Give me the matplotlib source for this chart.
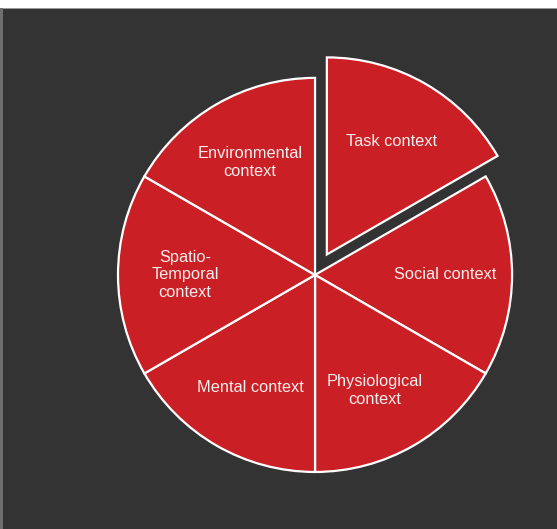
import matplotlib.pyplot as plt
from matplotlib.patches import Rectangle

# six context categories, equal share each
labels = ['Task context', 'Social context', 'Physiological\ncontext',
          'Mental context', 'Spatio-\nTemporal\ncontext', 'Environmental\ncontext']
values = [1, 1, 1, 1, 1, 1]
explode = [0.12, 0, 0, 0, 0, 0]

bg = '#333333'
red = '#c91f25'
txt = '#f8eeee'

plt.rcParams['font.family'] = ['Liberation Sans', 'DejaVu Sans']

fig = plt.figure(figsize=(5.57, 5.29), dpi=100, facecolor=bg)

# screenshot edges: white strip on top, thin grey strip at left
fig.patches.append(Rectangle((0, 1 - 8 / 529), 1, 8 / 529, transform=fig.transFigure,
                             facecolor='white', edgecolor='none', zorder=0))
fig.patches.append(Rectangle((0, 1 - 9 / 529), 1, 1.2 / 529, transform=fig.transFigure,
                             facecolor='#9a9a9a', edgecolor='none', zorder=0))
fig.patches.append(Rectangle((0, 0), 3 / 557, 1 - 8 / 529, transform=fig.transFigure,
                             facecolor='#6e6e6e', edgecolor='none', zorder=0))

ax = fig.add_axes([0.1411, 0.0333, 0.849, 0.894])
ax.set_facecolor(bg)

wedges, texts = ax.pie(values, labels=labels, explode=explode, startangle=90,
                       counterclock=False, colors=[red] * len(values),
                       labeldistance=0.66,
                       wedgeprops=dict(edgecolor='white', linewidth=1.6),
                       textprops=dict(color=txt, fontsize=11.8, ha='center', va='center',
                                      linespacing=1.22))
texts[2].set_position((0.305, -0.585))
ax.set_xlim(-1.2, 1.2)
ax.set_ylim(-1.2, 1.2)
ax.set_aspect('equal')

fig.savefig('out.png', dpi=100, facecolor=bg)
